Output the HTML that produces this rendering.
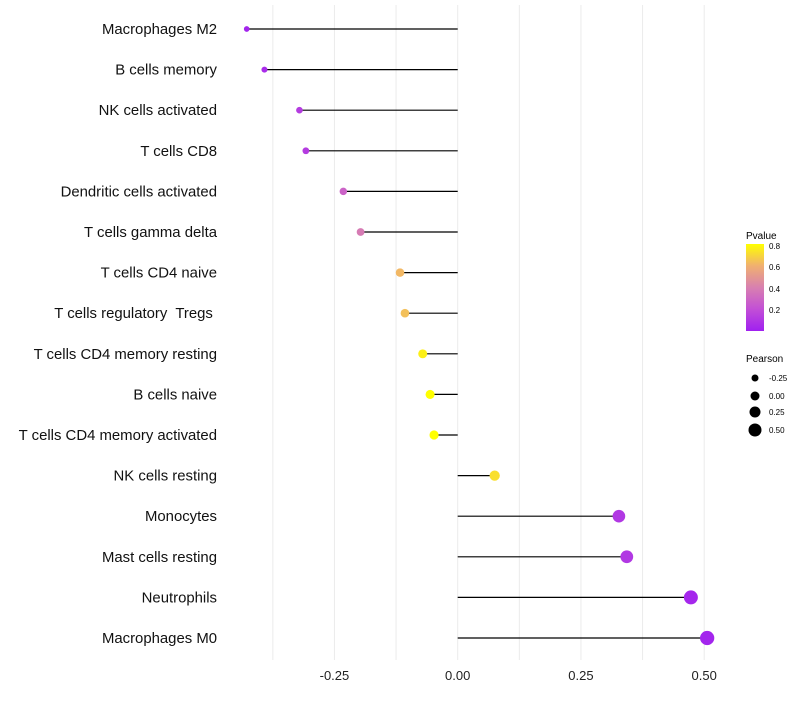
<!DOCTYPE html>
<html><head><meta charset="utf-8"><style>
body{margin:0;background:#fff}
svg text{font-family:"Liberation Sans",Arial,sans-serif;white-space:pre}
</style></head><body>
<svg id="chart" width="800" height="700">
<g id="grid"></g><g id="marks"></g><g id="labels"></g><g id="xticks"></g>
<g id="legend">
<defs><linearGradient id="pg" x1="0" y1="1" x2="0" y2="0">
<stop offset="0" stop-color="#a020f0"/><stop offset="0.25" stop-color="#c24fd6"/>
<stop offset="0.5" stop-color="#d880b0"/><stop offset="0.75" stop-color="#f0b070"/><stop offset="1" stop-color="#ffff00"/></linearGradient></defs>
<text x="746" y="239" font-size="10">Pvalue</text>
<rect x="746" y="244" width="18" height="87" fill="url(#pg)"/>
<text x="769" y="249" font-size="8">0.8</text>
<text x="769" y="270" font-size="8">0.6</text>
<text x="769" y="292" font-size="8">0.4</text>
<text x="769" y="313" font-size="8">0.2</text>
<text x="746" y="362" font-size="10">Pearson</text>
<circle cx="755" cy="378" r="3.5"/>
<circle cx="755" cy="396" r="4.5"/>
<circle cx="755" cy="412" r="5.5"/>
<circle cx="755" cy="430" r="6.5"/>
<text x="769" y="381" font-size="8">-0.25</text>
<text x="769" y="399" font-size="8">0.00</text>
<text x="769" y="415" font-size="8">0.25</text>
<text x="769" y="433" font-size="8">0.50</text>
</g>
</svg>
<script>
const categories=["Macrophages M2","B cells memory","NK cells activated","T cells CD8","Dendritic cells activated","T cells gamma delta","T cells CD4 naive","T cells regulatory  Tregs ","T cells CD4 memory resting","B cells naive","T cells CD4 memory activated","NK cells resting","Monocytes","Mast cells resting","Neutrophils","Macrophages M0"];
const pearson=[-0.428,-0.392,-0.321,-0.308,-0.232,-0.197,-0.117,-0.107,-0.071,-0.056,-0.048,0.075,0.327,0.343,0.473,0.506];
const pvalues=[0.02,0.05,0.12,0.12,0.28,0.38,0.62,0.64,0.76,0.8,0.82,0.72,0.1,0.1,0.03,0.02];
const tickVals=[-0.25,0,0.25,0.5];
const tickLabels=["-0.25","0.00","0.25","0.50"];
const minorVals=[-0.375,-0.125,0.125,0.375];
const NS="http://www.w3.org/2000/svg";
const x=v=>457.7+v*493;
const y=i=>29+i*40.6;
const col=p=>{const st=[[0,[160,32,240]],[0.2,[194,79,214]],[0.4,[216,128,176]],[0.6,[240,176,112]],[0.8,[255,255,0]]];p=Math.max(0,Math.min(0.8,p));for(let k=0;k<st.length-1;k++){if(p<=st[k+1][0]){const t=(p-st[k][0])/(st[k+1][0]-st[k][0]);return "rgb("+st[k][1].map((c,j)=>Math.round(c+t*(st[k+1][1][j]-c))).join(",")+")";}}return "rgb(255,255,0)";};
const rad=v=>Math.max(2.3,4.8+4.6*v);
function mk(tag,a,parent){const e=document.createElementNS(NS,tag);for(const k in a)e.setAttribute(k,a[k]);document.getElementById(parent).appendChild(e);return e;}
minorVals.concat(tickVals).forEach(v=>{const l=mk("line",{x1:x(v),x2:x(v),y1:5,y2:660,stroke:"#ebebeb","stroke-width":1},"grid");

});
tickVals.forEach((v,i)=>{const t=mk("text",{x:x(v),y:680,"font-size":13,"text-anchor":"middle",fill:"#222"},"xticks");t.textContent=tickLabels[i];

});
categories.forEach((c,i)=>{
const t=mk("text",{x:217,y:y(i)+5,"font-size":14.9,"text-anchor":"end",fill:"#111"},"labels");t.textContent=c;


const l=mk("line",{x1:x(0),x2:x(pearson[i]),y1:y(i),y2:y(i),stroke:"#000","stroke-width":1.2},"marks");


const p=mk("circle",{cx:x(pearson[i]),cy:y(i),r:rad(pearson[i]),fill:col(pvalues[i])},"marks");


});
</script>
</body></html>
